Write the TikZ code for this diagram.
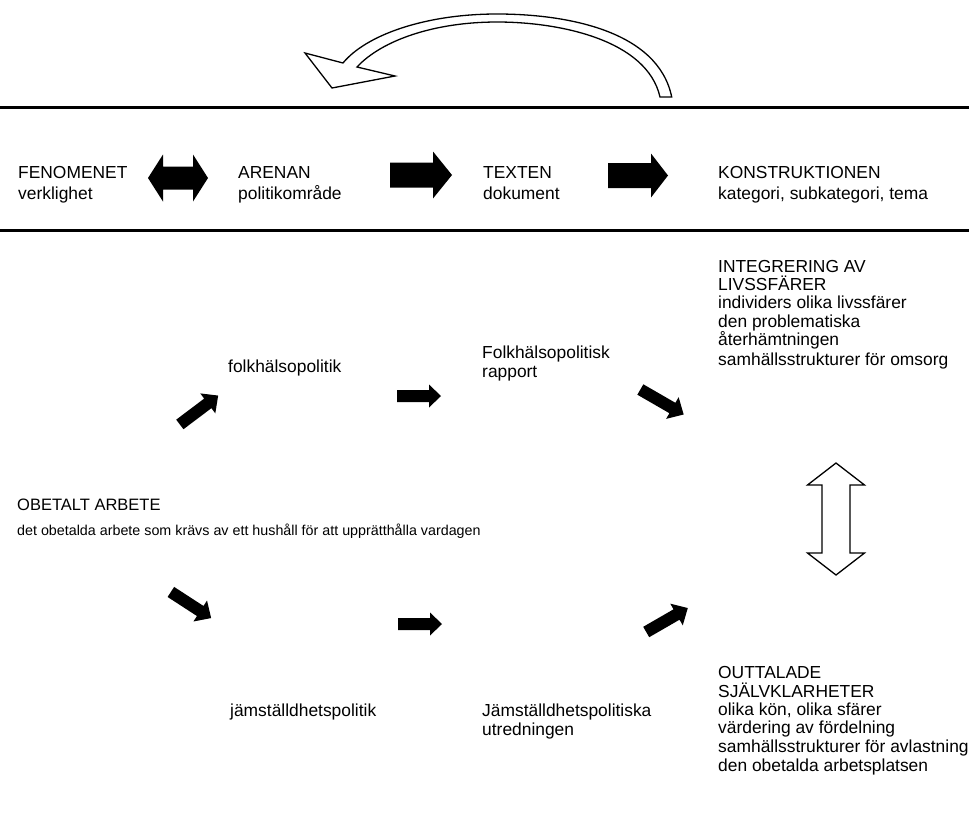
\documentclass[tikz,border=0pt]{standalone}
\usepackage{fontspec}
\setmainfont{Liberation Sans}
\newcommand{\barrow}[7]{%
  \fill[black,shift={(#1,#2)},rotate=#3] ({-#4/2},{-#5/2}) -- ({#4/2-#7},{-#5/2}) -- ({#4/2-#7},{-#6/2}) -- ({#4/2},0) -- ({#4/2-#7},{#6/2}) -- ({#4/2-#7},{#5/2}) -- ({-#4/2},{#5/2}) -- cycle;}
\newcommand{\dbarrow}[8]{%
  \path[#8,shift={(#1,#2)},rotate=#3] ({-#4/2},0) -- ({-#4/2+#7},{-#6/2}) -- ({-#4/2+#7},{-#5/2}) -- ({#4/2-#7},{-#5/2}) -- ({#4/2-#7},{-#6/2}) -- ({#4/2},0) -- ({#4/2-#7},{#6/2}) -- ({#4/2-#7},{#5/2}) -- ({-#4/2+#7},{#5/2}) -- ({-#4/2+#7},{#6/2}) -- cycle;}
\begin{document}
\begin{tikzpicture}[x=1pt,y=-1pt,
  txt/.style={anchor=base west, inner sep=0pt, font=\fontsize{17.4}{20}\selectfont},
  obt/.style={anchor=base west, inner sep=0pt, font=\fontsize{16.5}{19}\selectfont},
  smalltxt/.style={anchor=base west, inner sep=0pt, font=\fontsize{14.3}{17}\selectfont},
  rule/.style={line width=3pt},
  hollow/.style={draw=black, fill=white, line width=1.3pt, line join=miter}]
\useasboundingbox (0,0) rectangle (969,812);

% curved hollow arrow
\path[hollow] (343,63) -- (305,53) -- (332,88) -- (395,76) -- (357,67)
  .. controls (382,40) and (435,22) .. (497,22)
  .. controls (560,22) and (647,40) .. (660,97)
  -- (671.7,97)
  .. controls (658,30) and (565,14) .. (497,14)
  .. controls (425,14) and (366,35) .. cycle;

% rules
\coordinate (r1a) at (0,107); \coordinate (r1b) at (969,107);
\coordinate (r2a) at (0,230); \coordinate (r2b) at (969,230);
\draw[rule] (r1a) -- (r1b);
\draw[rule] (r2a) -- (r2b);

% header
\node[txt] (fen) at (18,178) {FENOMENET};
\node[txt] (fen2) at (18,199) {verklighet};
\node[txt] (are) at (238,178) {ARENAN};
\node[txt] (are2) at (238,199) {politikområde};
\node[txt] (tex) at (483,178) {TEXTEN};
\node[txt] (tex2) at (483,199) {dokument};
\node[txt] (kon) at (718,178) {KONSTRUKTIONEN};
\node[txt] (kon2) at (718,199) {kategori, subkategori, tema};

\dbarrow{178}{178}{0}{60}{23}{47}{15}{fill=black}
\barrow{421}{175}{0}{62}{25}{47}{19}
\barrow{638}{175.5}{0}{60}{25}{44}{17}

% upper row
\node[txt] (folk) at (228,372) {folkhälsopolitik};
\node[txt] (frap1) at (482,358) {Folkhälsopolitisk};
\node[txt] (frap2) at (482,377) {rapport};
\node[txt] (int1) at (718,272) {INTEGRERING AV};
\node[txt] (int2) at (718,290) {LIVSSFÄRER};
\node[txt] (int3) at (718,308.5) {individers olika livssfärer};
\node[txt] (int4) at (718,327) {den problematiska};
\node[txt] (int5) at (718,345.5) {återhämtningen};
\node[txt] (int6) at (718,365) {samhällsstrukturer för omsorg};

\barrow{199}{410}{37}{48}{12}{25}{13}
\barrow{419}{396}{0}{44}{12}{23}{12}
\barrow{662}{402}{-30}{50}{12}{25}{13}

% middle
\node[obt] (obt1) at (17,510) {OBETALT ARBETE};
\node[smalltxt] (obt2) at (17,535) {det obetalda arbete som krävs av ett hushåll för att upprätthålla vardagen};
\dbarrow{836}{519}{90}{112}{28}{57}{22}{hollow}

% lower row
\barrow{191}{605}{-33}{48}{12}{25}{13}
\barrow{420}{624}{0}{44}{12}{23}{12}
\barrow{667}{620}{30}{48}{12}{25}{13}
\node[txt] (jam) at (230,716) {jämställdhetspolitik};
\node[txt] (jut1) at (482,716) {Jämställdhetspolitiska};
\node[txt] (jut2) at (482,735) {utredningen};
\node[txt] (out1) at (718,678) {OUTTALADE};
\node[txt] (out2) at (718,697) {SJÄLVKLARHETER};
\node[txt] (out3) at (718,715) {olika kön, olika sfärer};
\node[txt] (out4) at (718,733.5) {värdering av fördelning};
\node[txt] (out5) at (718,752) {samhällsstrukturer för avlastning};
\node[txt] (out6) at (718,771) {den obetalda arbetsplatsen};
\end{tikzpicture}
\end{document}
